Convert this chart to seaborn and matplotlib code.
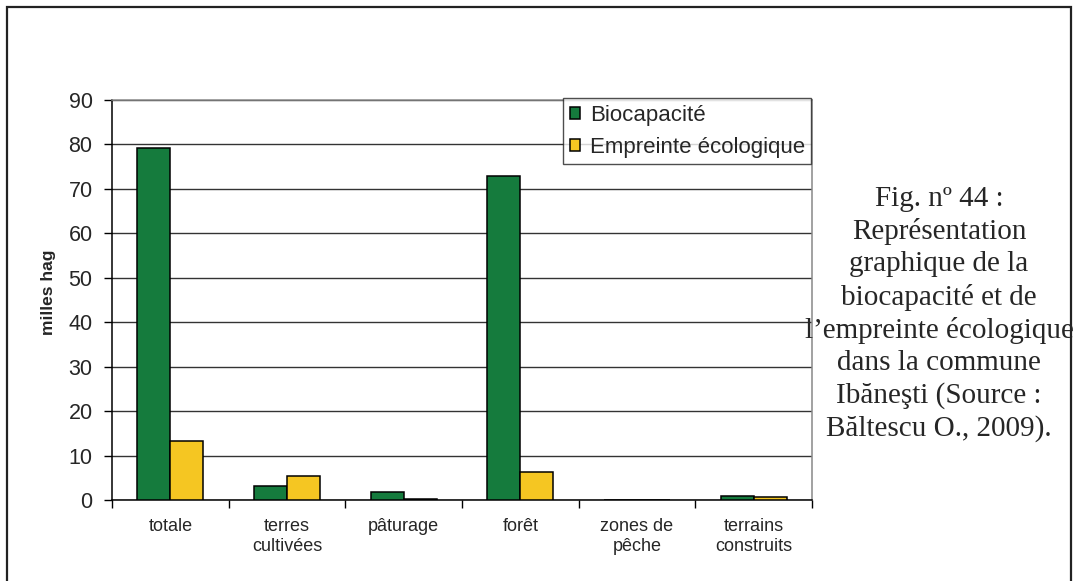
import pandas as pd
import matplotlib.pyplot as plt
import seaborn as sns
from matplotlib.patches import Rectangle
from matplotlib.ticker import FixedLocator

categories = ['totale', 'terres\ncultivées', 'pâturage', 'forêt', 'zones de\npêche', 'terrains\nconstruits']
biocapacite = [79.2, 3.2, 1.8, 72.9, 0.0, 1.0]
empreinte = [13.2, 5.3, 0.3, 6.3, 0.0, 0.7]
series_names = ['Biocapacité', 'Empreinte écologique']
series_colors = ['#157B3D', '#F5C622']
y_ticks = [0, 10, 20, 30, 40, 50, 60, 70, 80, 90]

caption = ("Fig. n\u00ba 44 :\nReprésentation\ngraphique de la\nbiocapacité et de\n"
           "l\u2019empreinte écologique\ndans la commune\nIbăneşti (Source :\nBăltescu O., 2009).")


def build_frame():
    rows = []
    for cat, b, e in zip(categories, biocapacite, empreinte):
        rows.append({'cat': cat, 'serie': series_names[0], 'val': b})
        rows.append({'cat': cat, 'serie': series_names[1], 'val': e})
    return pd.DataFrame(rows)


def main():
    sns.set_style('white')
    plt.rcParams['font.family'] = ['Liberation Sans', 'DejaVu Sans']

    data = build_frame()
    fig = plt.figure(figsize=(10.75, 5.81), dpi=100)
    ax = fig.add_axes([112 / 1075, 1 - 500 / 581, 700 / 1075, 400 / 581])

    sns.barplot(data=data, x='cat', y='val', hue='serie', order=categories,
                hue_order=series_names, palette=series_colors, width=0.566,
                saturation=1, edgecolor='black', linewidth=1.1, ax=ax, zorder=3)

    ax.set_ylim(0, 90)
    ax.set_xlim(-0.5, 5.5)
    ax.set_yticks(y_ticks)
    ax.yaxis.grid(True, color='#333333', linewidth=1.0, zorder=0)
    ax.set_axisbelow(True)
    ax.set_xlabel('')
    ax.set_ylabel('milles hag', fontsize=12.5, fontweight='bold')
    ax.yaxis.set_label_coords(-0.08, 0.52)

    ax.tick_params(axis='y', which='major', left=True, length=6, width=1,
                   direction='out', pad=8, labelsize=15.5, color='black')
    ax.tick_params(axis='x', which='major', length=0, pad=13, labelsize=13)
    ax.xaxis.set_minor_locator(FixedLocator([i - 0.5 for i in range(len(categories) + 1)]))
    ax.tick_params(axis='x', which='minor', bottom=True, length=6, width=1,
                   direction='out', color='black')

    for side in ['left', 'bottom']:
        ax.spines[side].set_color('black')
        ax.spines[side].set_linewidth(1.1)
    for side in ['top', 'right']:
        ax.spines[side].set_color('#888888')
        ax.spines[side].set_linewidth(1.1)

    handles, labels = ax.get_legend_handles_labels()
    leg = ax.legend(handles, labels, loc='upper left',
                    bbox_to_anchor=(563 / 1075, 1 - 98 / 581),
                    bbox_transform=fig.transFigure, fontsize=16,
                    frameon=True, fancybox=False, borderpad=0.3,
                    handlelength=0.45, handleheight=0.45, handletextpad=0.45,
                    labelspacing=0.5, borderaxespad=0)
    leg.get_frame().set_edgecolor('#222222')
    leg.get_frame().set_linewidth(1.0)
    leg.set_zorder(5)

    fig.text(939 / 1075, 1 - 314 / 581, caption, ha='center', va='center',
             fontsize=21, linespacing=1.3,
             family=['Liberation Serif', 'DejaVu Serif'])

    border = Rectangle((7 / 1075, -0.05), (1071 - 7) / 1075, 1.05 - 7 / 581,
                       transform=fig.transFigure, fill=False,
                       edgecolor='#222222', linewidth=1.6)
    fig.patches.append(border)

    fig.savefig('out.png', dpi=100)


if __name__ == "__main__":
    main()
